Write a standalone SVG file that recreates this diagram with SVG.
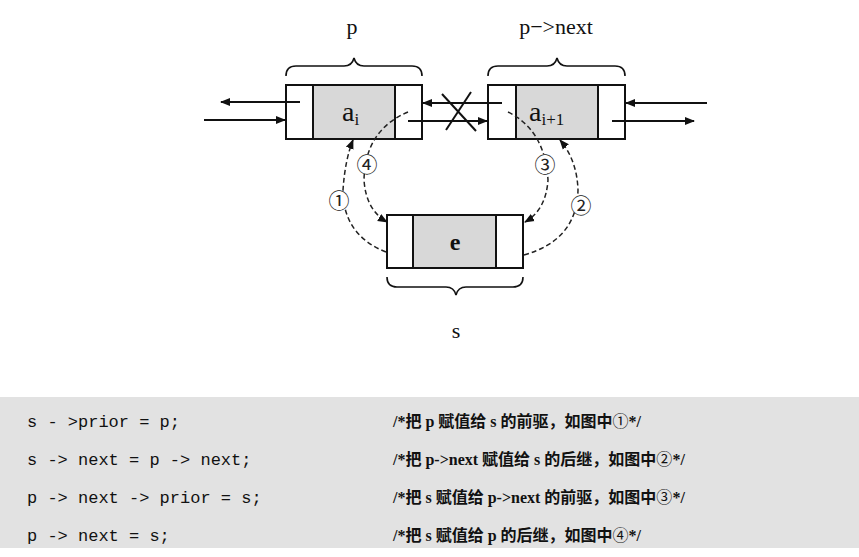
<svg xmlns="http://www.w3.org/2000/svg" width="859" height="557" viewBox="0 0 859 557">
<defs>
<marker id="ah" viewBox="0 0 10 10" refX="9" refY="5" markerWidth="10" markerHeight="10" markerUnits="userSpaceOnUse" orient="auto"><path d="M0,1 L10,5 L0,9 z" fill="#111"/></marker>
</defs>
<style>
.box{fill:#fff;stroke:#111;stroke-width:2}
.data{fill:#d8d8d8;stroke:#111;stroke-width:2}
.ln{stroke:#111;stroke-width:2;fill:none}
.ds{stroke:#222;stroke-width:1.5;fill:none;stroke-dasharray:5,3}
.br{stroke:#111;stroke-width:1.6;fill:none}
.t{font-family:"Liberation Serif",serif;fill:#111}
.n{font-family:"Noto Sans CJK SC",sans-serif;font-size:21px;fill:#222;text-anchor:middle}
.bg{fill:#fff}
.c{font-family:"Liberation Mono",monospace;font-size:17px;fill:#111}
.cm{font-family:"Liberation Serif","Noto Sans CJK SC",serif;font-size:16px;fill:#111;font-weight:bold}
.cn{font-family:"Noto Sans CJK SC",sans-serif;font-weight:normal}
</style>
<rect width="859" height="557" fill="#fff"/>
<g id="node-p">
<rect class="box" x="286" y="85" width="136" height="54"/>
<rect class="data" x="313" y="85" width="82" height="54"/>
<text class="t" x="342" y="121" font-size="28">a<tspan font-size="17" dy="4">i</tspan></text>
</g>
<g id="node-next">
<rect class="box" x="488" y="85" width="137" height="54"/>
<rect class="data" x="516" y="85" width="82" height="54"/>
<text class="t" x="529" y="121" font-size="28">a<tspan font-size="17" dy="4">i+1</tspan></text>
</g>
<g id="node-s">
<rect class="box" x="387" y="215" width="136" height="53"/>
<rect class="data" x="413" y="215" width="83" height="53"/>
<text class="t" x="455" y="250" font-size="24" text-anchor="middle" font-weight="bold">e</text>
</g>
<g id="connectors">
<line class="ln" x1="300" y1="102" x2="221" y2="102" marker-end="url(#ah)"/>
<line class="ln" x1="204" y1="120" x2="285" y2="120" marker-end="url(#ah)"/>
<line class="ln" x1="502" y1="103" x2="423" y2="103" marker-end="url(#ah)"/>
<line class="ln" x1="408" y1="121" x2="487" y2="121" marker-end="url(#ah)"/>
<line class="ln" x1="707" y1="103" x2="626" y2="103" marker-end="url(#ah)"/>
<line class="ln" x1="612" y1="121" x2="694" y2="121" marker-end="url(#ah)"/>
<line class="ln" x1="442" y1="94" x2="476" y2="131" stroke-width="1.5"/>
<line class="ln" x1="471" y1="92" x2="446" y2="130" stroke-width="1.5"/>
<path class="ds" d="M386,252 Q343,235 343,190 Q345,160 353,140" marker-end="url(#ah)"/>
<path class="ds" d="M408,112 Q365,130 364,180 Q366,210 387,222" marker-end="url(#ah)"/>
<path class="ds" d="M508,112 Q545,130 548,180 Q546,210 525,222" marker-end="url(#ah)"/>
<path class="ds" d="M524,255 Q577,240 578,190 Q577,160 560,140" marker-end="url(#ah)"/>
</g>
<g id="labels">
<path class="br" d="M286,76 Q286,66 296,66 L344,66 Q352,66 354,58 Q356,66 364,66 L412,66 Q422,66 422,76"/>
<path class="br" d="M488,76 Q488,66 498,66 L547,66 Q555,66 557,58 Q559,66 567,66 L615,66 Q625,66 625,76"/>
<path class="br" d="M387,277 Q387,287 397,287 L446,287 Q454,287 456,295 Q458,287 466,287 L513,287 Q523,287 523,277"/>
<text class="t" x="352" y="34" font-size="22" text-anchor="middle">p</text>
<text class="t" x="556" y="34" font-size="22" text-anchor="middle">p−&gt;next</text>
<text class="t" x="456" y="338" font-size="22" text-anchor="middle">s</text>
<circle class="bg" cx="339" cy="200" r="10"/>
<circle class="bg" cx="367" cy="164" r="10"/>
<circle class="bg" cx="545" cy="164" r="10"/>
<circle class="bg" cx="581" cy="205" r="10"/>
<text class="n" x="339" y="208">①</text>
<text class="n" x="367" y="172">④</text>
<text class="n" x="545" y="172">③</text>
<text class="n" x="581" y="213">②</text>
</g>
<g id="code">
<rect x="0" y="397" width="859" height="151" fill="#e2e2e2"/>
<text class="c" x="27" y="427">s - &gt;prior = p;</text>
<text class="c" x="27" y="465">s -&gt; next = p -&gt; next;</text>
<text class="c" x="27" y="503">p -&gt; next -&gt; prior = s;</text>
<text class="c" x="27" y="541">p -&gt; next = s;</text>
<text class="cm" x="393" y="427">/*把 p 赋值给 s 的前驱，如图中<tspan class="cn">①</tspan>*/</text>
<text class="cm" x="393" y="465">/*把 p-&gt;next 赋值给 s 的后继，如图中<tspan class="cn">②</tspan>*/</text>
<text class="cm" x="393" y="503">/*把 s 赋值给 p-&gt;next 的前驱，如图中<tspan class="cn">③</tspan>*/</text>
<text class="cm" x="393" y="541">/*把 s 赋值给 p 的后继，如图中<tspan class="cn">④</tspan>*/</text>
</g>
</svg>
